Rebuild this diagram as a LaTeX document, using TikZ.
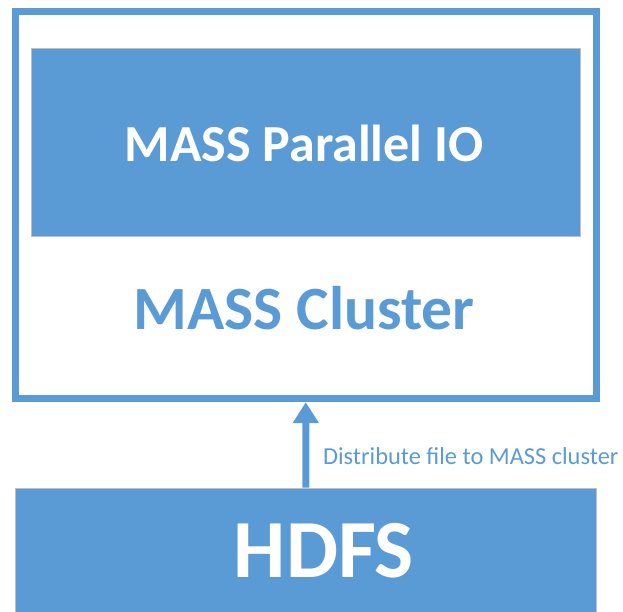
\documentclass[tikz,border=0pt]{standalone}
\usepackage{fontspec}
\setmainfont{Carlito}
\usepackage{tikz}
\usetikzlibrary{arrows.meta,positioning}
\definecolor{massblue}{HTML}{5B9BD5}
\tikzset{
    %Define standard arrow tip
    >={Triangle[width=25pt,length=21pt]},
    %Define style for boxes
    outerbox/.style={
           rectangle,
           draw=massblue, line width=7pt,
           minimum width=580.5pt,
           minimum height=387.2pt,
           inner sep=0pt},
    filledbox/.style={
           rectangle,
           draw=black!25, line width=0.8pt,
           fill=massblue,
           inner sep=0pt},
    boxtitle/.style={
           font=\bfseries\fontsize{52}{54}\selectfont,
           text=white,
           inner sep=0pt},
    clustertitle/.style={
           font=\bfseries\fontsize{61.5}{64}\selectfont,
           text=massblue,
           inner sep=0pt},
    hdfstitle/.style={
           font=\bfseries\fontsize{82.6}{86}\selectfont,
           text=white,
           inner sep=0pt},
    edgelabel/.style={
           font=\fontsize{24.4}{26}\selectfont,
           text=massblue,
           inner sep=0pt},
    % Define arrow style
    pil/.style={
           ->,
           draw=massblue,
           line width=7pt}
}
\begin{document}
\begin{tikzpicture}[x=1pt,y=1pt]
\useasboundingbox (0,0) rectangle (623,612);
 %nodes
\node[outerbox] (cluster) at (305.75,406.9) {};
\node[filledbox, minimum width=549pt, minimum height=188pt] (pio) at (305.5,470) {};
\node[boxtitle, anchor=base] (piotext) at (304,450.3) {MASS Parallel IO};
\node[clustertitle, anchor=base] (clustertext) at (304,282) {MASS Cluster};
\node[filledbox, minimum width=580.3pt, minimum height=124pt] (hdfs) at (305.85,62) {};
\node[hdfstitle, anchor=base] (hdfstext) at (324,34) {HDFS};
 %arrow
\draw[pil] (hdfs.north) -- node[edgelabel, pos=0.2665, anchor=base west, xshift=13.8pt] (distlabel) {Distribute file to MASS cluster} (cluster.south);
\end{tikzpicture}
\end{document}
